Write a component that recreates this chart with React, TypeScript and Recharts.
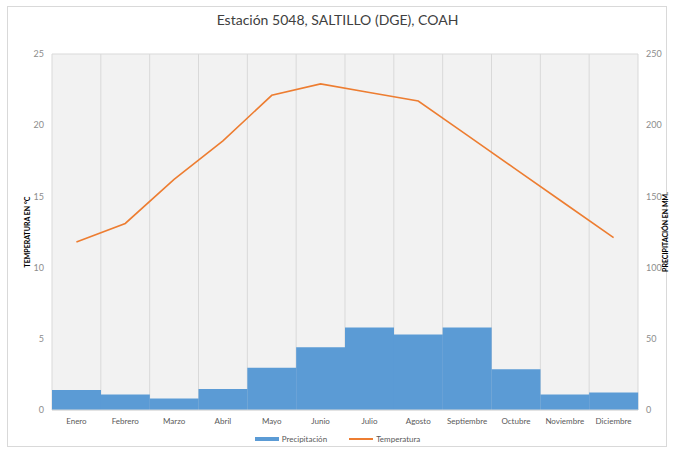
import React from 'react';
import { ComposedChart, Bar, Line, XAxis, YAxis, CartesianGrid, Legend } from 'recharts';

const months = ['Enero', 'Febrero', 'Marzo', 'Abril', 'Mayo', 'Junio', 'Julio', 'Agosto', 'Septiembre', 'Octubre', 'Noviembre', 'Diciembre'];
const precipitacion = [14.1, 10.9, 8.0, 14.8, 29.6, 44.0, 58.0, 53.0, 58.0, 28.6, 10.9, 12.3];
const temperatura = [11.8, 13.1, 16.2, 18.9, 22.1, 22.9, 22.3, 21.7, 19.3, 16.9, 14.5, 12.1];
const tempTicks = [0, 5, 10, 15, 20, 25];
const precTicks = [0, 50, 100, 150, 200, 250];

const data = months.map((m, i) => ({ mes: m, Precipitación: precipitacion[i], Temperatura: temperatura[i] }));

const FONT = "'Lato', 'Open Sans', sans-serif";

const LegendContent = () => (
  <div style={{ display: 'flex', justifyContent: 'center', alignItems: 'center', fontFamily: FONT, fontSize: 8, color: '#595959' }}>
    <span style={{ display: 'inline-block', width: 24, height: 4, background: '#5b9bd5', marginRight: 3 }} />
    <span style={{ marginRight: 22 }}>Precipitación</span>
    <span style={{ display: 'inline-block', width: 24, height: 2, background: '#ed7d31', marginRight: 3 }} />
    <span>Temperatura</span>
  </div>
);

export default function App() {
  return (
    <div style={{ position: 'absolute', left: 0, top: 0, width: 675, height: 452, background: '#fff', fontFamily: FONT }}>
      <div style={{ position: 'absolute', left: 7, top: 6, width: 660, height: 441, border: '1px solid #d9d9d9', boxSizing: 'border-box' }} />
      <div style={{ position: 'absolute', left: 0, top: 11, width: 675, textAlign: 'center', fontSize: 14, color: '#404040', fontFamily: FONT }}>
        Estación 5048, SALTILLO (DGE), COAH
      </div>
      <div style={{ position: 'absolute', left: 0, top: 0 }}>
        <ComposedChart width={675} height={452} data={data} barCategoryGap={0} barGap={0} margin={{ top: 44, right: 0, left: 12, bottom: 22 }} style={{ fontFamily: FONT }}>
          <CartesianGrid
            stroke="#d9d9d9"
            fill="#f2f2f2"
            fillOpacity={1}
            verticalCoordinatesGenerator={({ offset }: any) => {
              const n = months.length;
              return Array.from({ length: n + 1 }, (_, i) => offset.left + (i * offset.width) / n);
            }}
          />
          <XAxis dataKey="mes" tickLine={false} axisLine={{ stroke: '#d9d9d9' }} tick={{ fontSize: 8, fill: '#595959' }} height={20} interval={0} />
          <YAxis
            yAxisId="t"
            orientation="left"
            domain={[0, 25]}
            ticks={tempTicks}
            width={40}
            tickLine={false}
            axisLine={false}
            tick={{ fontSize: 9, fill: '#8c8c8c' }}
            label={{ value: 'TEMPERATURA EN °C', angle: -90, position: 'insideLeft', offset: 16, style: { fontSize: 7, fontWeight: 'bold', fill: '#000', textAnchor: 'middle' } }}
          />
          <YAxis
            yAxisId="p"
            orientation="right"
            domain={[0, 250]}
            ticks={precTicks}
            width={37}
            tickLine={false}
            axisLine={false}
            tick={{ fontSize: 9, fill: '#8c8c8c' }}
            label={{ value: 'PRECIPITACIÓN EN MM.', angle: -90, position: 'insideRight', offset: 9, style: { fontSize: 7, fontWeight: 'bold', fill: '#000', textAnchor: 'middle' } }}
          />
          <Bar yAxisId="p" dataKey="Precipitación" fill="#5b9bd5" isAnimationActive={false} />
          <Line yAxisId="t" dataKey="Temperatura" stroke="#ed7d31" strokeWidth={1.6} dot={false} type="linear" isAnimationActive={false} />
          <Legend verticalAlign="top" content={<LegendContent />} wrapperStyle={{ top: 434, left: 0, width: 675 }} />
        </ComposedChart>
      </div>
    </div>
  );
}
